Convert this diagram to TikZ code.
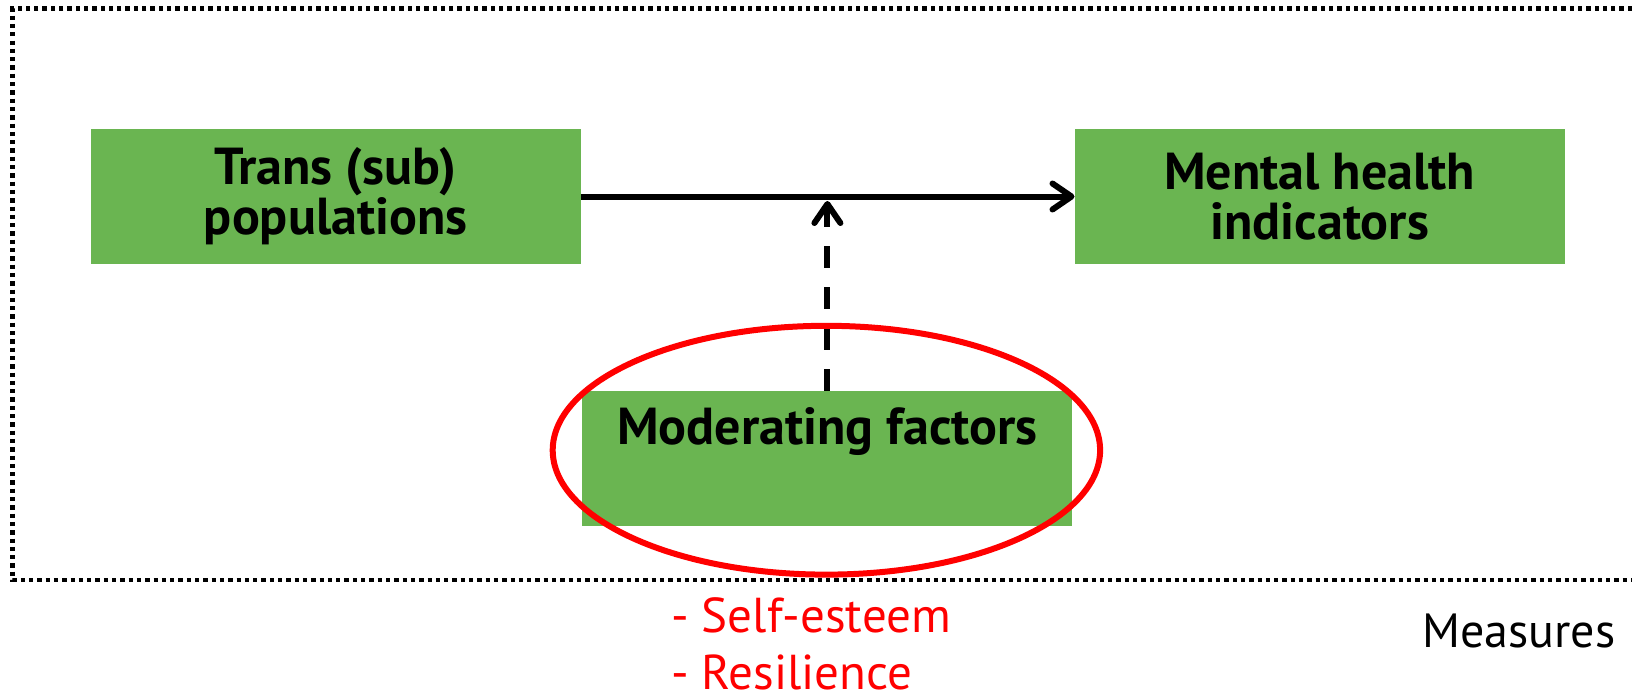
\documentclass[tikz,border=0pt]{standalone}
\usepackage{fontspec}
\setmainfont{PT Sans}
\usetikzlibrary{arrows.meta}

\definecolor{boxgreen}{RGB}{106,181,81}
\definecolor{markred}{RGB}{255,0,0}

\tikzset{
  greenbox/.style={fill=boxgreen, minimum width=490, minimum height=135,
    inner sep=0pt, align=center, font=\fontsize{52}{50}\selectfont\bfseries},
  arr/.style={line width=6pt,
    -{Straight Barb[length=19pt,width=26pt,line cap=round,line join=round]}},
}

\begin{document}
\begin{tikzpicture}[x=1pt,y=-1pt]
        \useasboundingbox (0,0) rectangle (1632,694);
        % Cadre pointille (coupe a droite)
        \draw[line width=4.5pt, dash pattern=on 4.3pt off 4pt]
          (1632,8.3) -- (12.5,8.3) -- (12.5,580) -- (1632,580);

        % Boites
        \node[greenbox] (trans) at (335.7,196.5) {Trans (sub)\\populations};
        \node[greenbox] (mental) at (1319.7,196.5) {Mental health\\indicators};
        \node[greenbox] (moder) at (827.4,458.5) {Moderating factors\\\strut};

        % Fleches
        \coordinate (meet) at (827.4,201);
        \draw[arr] (trans.east) -- (mental.west);
        \draw[arr, dash pattern=on 22pt off 19pt] (moder.north) -- (meet);

        % Ellipse rouge
        \draw[markred, line width=6pt] (826.4,450.2) ellipse [x radius=273.7, y radius=124.4];

        % Textes
        \node[markred, anchor=base west, inner sep=0pt, align=left,
          font=\fontsize{49}{57}\selectfont] (facts) at (671,689) {- Self-esteem\\- Resilience};
        \node[anchor=base west, inner sep=0pt,
          font=\fontsize{48}{57}\selectfont] (meas) at (1422,647) {Measures};
    \end{tikzpicture}
\end{document}
